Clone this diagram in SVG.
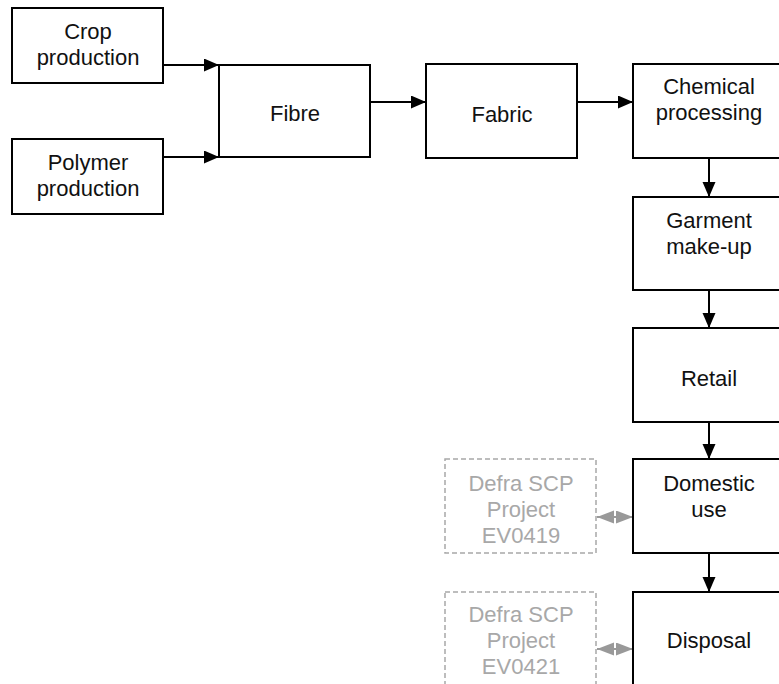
<svg xmlns="http://www.w3.org/2000/svg" width="779" height="684" viewBox="0 0 779 684">
<style>
.box{fill:#fff;stroke:#000;stroke-width:2}
.dbox{fill:#fff;stroke:#a8a8a8;stroke-width:1.5;stroke-dasharray:5,3}
.t{font-family:"Liberation Sans",Arial,sans-serif;font-size:22px;fill:#111;text-anchor:middle}
.g{fill:#a8a8a8}
.c{stroke:#000;stroke-width:2;fill:none}
.cg{stroke:#999;stroke-width:2;fill:none}
</style>
<defs>
<marker id="ah" markerUnits="userSpaceOnUse" markerWidth="16" markerHeight="14" refX="15" refY="6.5" orient="auto"><path d="M0,0 L15,6.5 L0,13 z" fill="#000"/></marker>
<marker id="ag" markerUnits="userSpaceOnUse" markerWidth="17" markerHeight="14" refX="17" refY="6.5" orient="auto-start-reverse"><path d="M0,0 L17,6.5 L0,13 z" fill="#999"/></marker>
</defs>
<rect width="779" height="684" fill="#fff"/>
<g id="connectors">
<line class="c" x1="163" y1="65" x2="219" y2="65" marker-end="url(#ah)"/>
<line class="c" x1="163" y1="157" x2="219" y2="157" marker-end="url(#ah)"/>
<line class="c" x1="370" y1="102" x2="426" y2="102" marker-end="url(#ah)"/>
<line class="c" x1="577" y1="102" x2="633" y2="102" marker-end="url(#ah)"/>
<line class="c" x1="709" y1="158" x2="709" y2="197" marker-end="url(#ah)"/>
<line class="c" x1="709" y1="290" x2="709" y2="328" marker-end="url(#ah)"/>
<line class="c" x1="709" y1="422" x2="709" y2="459" marker-end="url(#ah)"/>
<line class="c" x1="709" y1="553" x2="709" y2="592" marker-end="url(#ah)"/>
<line class="cg" x1="597" y1="517" x2="633" y2="517" marker-start="url(#ag)" marker-end="url(#ag)"/>
<line class="cg" x1="597" y1="649" x2="633" y2="649" marker-start="url(#ag)" marker-end="url(#ag)"/>
</g>
<g id="crop"><rect class="box" x="12" y="8" width="151" height="75"/><text class="t" x="88" y="39">Crop</text><text class="t" x="88" y="65">production</text></g>
<g id="polymer"><rect class="box" x="12" y="139" width="151" height="75"/><text class="t" x="88" y="170">Polymer</text><text class="t" x="88" y="196">production</text></g>
<g id="fibre"><rect class="box" x="219" y="65" width="151" height="92"/><text class="t" x="295" y="121">Fibre</text></g>
<g id="fabric"><rect class="box" x="426" y="64" width="151" height="94"/><text class="t" x="502" y="122">Fabric</text></g>
<g id="chemical"><rect class="box" x="633" y="64" width="151" height="94"/><text class="t" x="709" y="94">Chemical</text><text class="t" x="709" y="120">processing</text></g>
<g id="garment"><rect class="box" x="633" y="197" width="151" height="93"/><text class="t" x="709" y="228">Garment</text><text class="t" x="709" y="254">make-up</text></g>
<g id="retail"><rect class="box" x="633" y="328" width="151" height="94"/><text class="t" x="709" y="386">Retail</text></g>
<g id="domestic"><rect class="box" x="633" y="459" width="151" height="94"/><text class="t" x="709" y="491">Domestic</text><text class="t" x="709" y="517">use</text></g>
<g id="disposal"><rect class="box" x="633" y="592" width="151" height="100"/><text class="t" x="709" y="648">Disposal</text></g>
<g id="ev0419"><rect class="dbox" x="445" y="459" width="151" height="94"/><text class="t g" x="521" y="491">Defra SCP</text><text class="t g" x="521" y="517">Project</text><text class="t g" x="521" y="543">EV0419</text></g>
<g id="ev0421"><rect class="dbox" x="445" y="592" width="151" height="100"/><text class="t g" x="521" y="622">Defra SCP</text><text class="t g" x="521" y="648">Project</text><text class="t g" x="521" y="674">EV0421</text></g>
</svg>
